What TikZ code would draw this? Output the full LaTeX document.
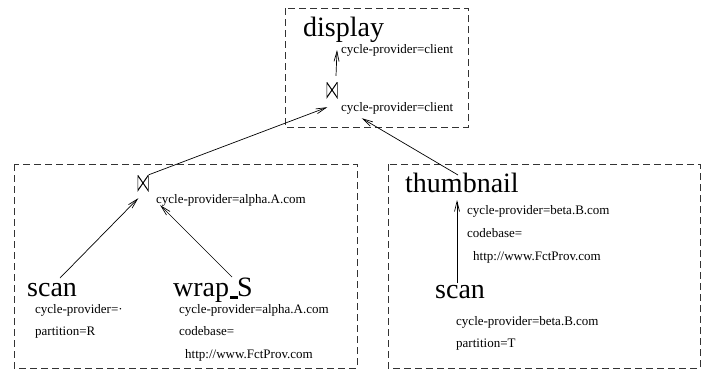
\documentclass[tikz,border=0pt]{standalone}
\usepackage{fontspec}
\setmainfont{Liberation Serif}
\usetikzlibrary{arrows.meta,calc}
\tikzset{
  big/.style={font=\fontsize{28}{30}\selectfont, inner sep=0pt, anchor=base west},
  small/.style={font=\fontsize{13}{15}\selectfont, inner sep=0pt, anchor=base west},
  groupbox/.style={draw=black!80, line width=0.8pt, dash pattern=on 7pt off 4pt},
  bowtie/.style={minimum width=11pt, minimum height=16pt, inner sep=0pt,
    path picture={\draw[line width=1pt]
      (path picture bounding box.south west) -- (path picture bounding box.north west)
      -- (path picture bounding box.south east) -- (path picture bounding box.north east)
      -- cycle;}},
  flow/.style={line width=0.7pt, -{Straight Barb[length=10pt,width=5pt]}}
}
\begin{document}
\begin{tikzpicture}[x=1pt,y=-1pt]
\useasboundingbox (0,0) rectangle (708,372);
% group boxes
\draw[groupbox] (285,8) rectangle (468,127);
\draw[groupbox] (14,164) rectangle (357,368);
\draw[groupbox] (388,164) rectangle (700,368);
% top group
\node[big] (display) at (303,36) {display};
\node[small] (cpc1) at (341,53) {cycle-provider=client};
\node[bowtie] (topbow) at (332,90) {};
\node[small] (cpc2) at (341,111) {cycle-provider=client};
% bottom-left group
\node[bowtie] (bowL) at (143,183) {};
\node[small] (cpa1) at (156,203) {cycle-provider=alpha.A.com};
\node[big] (scanL) at (27,296) {scan};
\node[small] (cpdot) at (35,313) {cycle-provider=·};
\node[small] (partR) at (35,335) {partition=R};
\node[big] (wrapS) at (173,296) {wrap\kern1pt\rule[-2.5pt]{8pt}{3pt}\kern-1pt S};
\node[small] (cpa2) at (179,313) {cycle-provider=alpha.A.com};
\node[small] (cbL) at (179,335) {codebase=};
\node[small] (urlL) at (185,358) {http://www.FctProv.com};
% bottom-right group
\node[big] (thumb) at (405,192) {thumbnail};
\node[small] (cpb1) at (467,214) {cycle-provider=beta.B.com};
\node[small] (cbR) at (467,237) {codebase=};
\node[small] (urlR) at (473,260) {http://www.FctProv.com};
\node[big] (scanR) at (435,298) {scan};
\node[small] (cpb2) at (456,325) {cycle-provider=beta.B.com};
\node[small] (partT) at (456,347) {partition=T};
% connectors
\draw[flow] ($(topbow.north)+(4,-6)$) -- ($(display.base west)+(34,14)$);
\draw[flow] (bowL.north east) -- ($(topbow.south west)+(1,9)$);
\draw[flow] ($(thumb.base west)+(53,-17)$) -- ($(topbow.south east)+(24,20)$);
\draw[flow] ($(scanL.base west)+(33,-18)$) -- ($(bowL.south west)+(1,7)$);
\draw[flow] ($(wrapS.base west)+(59,-19)$) -- ($(bowL.south east)+(11.5,14)$);
\draw[flow] ($(scanR.base west)+(22,-15)$) -- ($(thumb.base west)+(52,8)$);
\end{tikzpicture}
\end{document}
